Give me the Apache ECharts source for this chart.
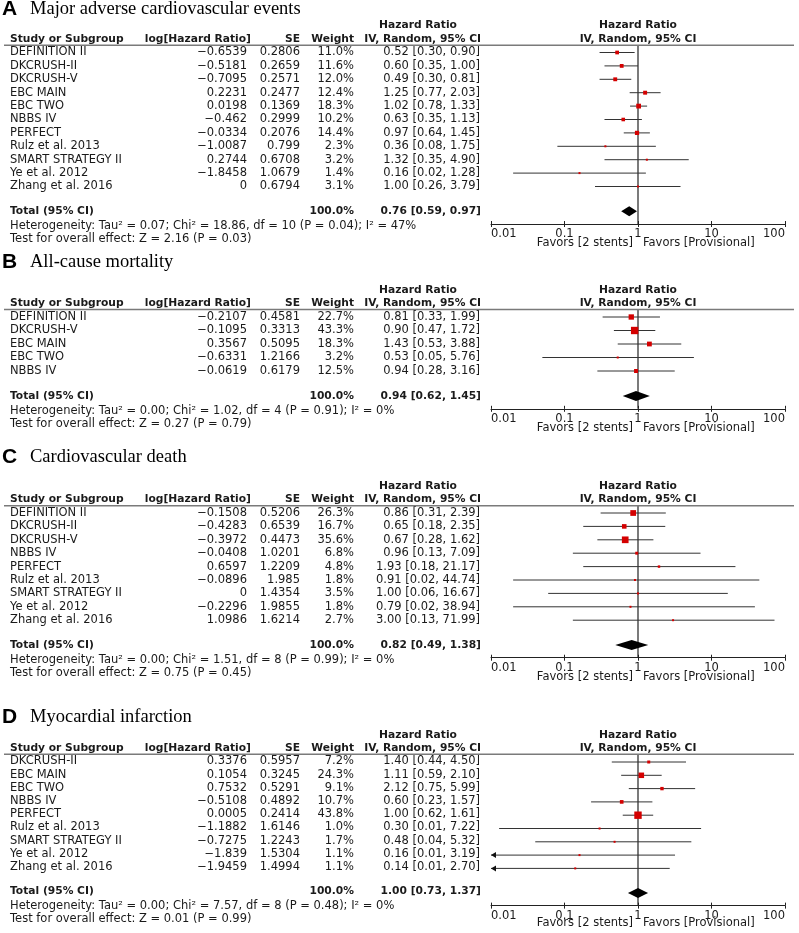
<!DOCTYPE html>
<html><head><meta charset="utf-8">
<script src="https://cdn.jsdelivr.net/npm/echarts@6/dist/echarts.min.js"></script>
<style>html,body{margin:0;padding:0;background:#fff}#c{width:799px;height:933px}</style>
</head><body><div id="c"></div>
<script>
// ---------- Panel A: Major adverse cardiovascular events ----------
const A_studies = ['DEFINITION II','DKCRUSH-II','DKCRUSH-V','EBC MAIN','EBC TWO','NBBS IV','PERFECT','Rulz et al. 2013','SMART STRATEGY II','Ye et al. 2012','Zhang et al. 2016'];
const A_logHR = [-0.6539,-0.5181,-0.7095,0.2231,0.0198,-0.462,-0.0334,-1.0087,0.2744,-1.8458,0];
const A_se = [0.2806,0.2659,0.2571,0.2477,0.1369,0.2999,0.2076,0.799,0.6708,1.0679,0.6794];
const A_weight = [11.0,11.6,12.0,12.4,18.3,10.2,14.4,2.3,3.2,1.4,3.1];
const A_hr = [0.52,0.60,0.49,1.25,1.02,0.63,0.97,0.36,1.32,0.16,1.00];
const A_lo = [0.30,0.35,0.30,0.77,0.78,0.35,0.64,0.08,0.35,0.02,0.26];
const A_hi = [0.90,1.00,0.81,2.03,1.33,1.13,1.45,1.75,4.90,1.28,3.79];
const A_total = [0.76,0.59,0.97];
const A_hetero = 'Heterogeneity: Tau² = 0.07; Chi² = 18.86, df = 10 (P = 0.04); I² = 47%';
const A_test = 'Test for overall effect: Z = 2.16 (P = 0.03)';

// ---------- Panel B: All-cause mortality ----------
const B_studies = ['DEFINITION II','DKCRUSH-V','EBC MAIN','EBC TWO','NBBS IV'];
const B_logHR = [-0.2107,-0.1095,0.3567,-0.6331,-0.0619];
const B_se = [0.4581,0.3313,0.5095,1.2166,0.6179];
const B_weight = [22.7,43.3,18.3,3.2,12.5];
const B_hr = [0.81,0.90,1.43,0.53,0.94];
const B_lo = [0.33,0.47,0.53,0.05,0.28];
const B_hi = [1.99,1.72,3.88,5.76,3.16];
const B_total = [0.94,0.62,1.45];
const B_hetero = 'Heterogeneity: Tau² = 0.00; Chi² = 1.02, df = 4 (P = 0.91); I² = 0%';
const B_test = 'Test for overall effect: Z = 0.27 (P = 0.79)';

// ---------- Panel C: Cardiovascular death ----------
const C_studies = ['DEFINITION II','DKCRUSH-II','DKCRUSH-V','NBBS IV','PERFECT','Rulz et al. 2013','SMART STRATEGY II','Ye et al. 2012','Zhang et al. 2016'];
const C_logHR = [-0.1508,-0.4283,-0.3972,-0.0408,0.6597,-0.0896,0,-0.2296,1.0986];
const C_se = [0.5206,0.6539,0.4473,1.0201,1.2209,1.985,1.4354,1.9855,1.6214];
const C_weight = [26.3,16.7,35.6,6.8,4.8,1.8,3.5,1.8,2.7];
const C_hr = [0.86,0.65,0.67,0.96,1.93,0.91,1.00,0.79,3.00];
const C_lo = [0.31,0.18,0.28,0.13,0.18,0.02,0.06,0.02,0.13];
const C_hi = [2.39,2.35,1.62,7.09,21.17,44.74,16.67,38.94,71.99];
const C_total = [0.82,0.49,1.38];
const C_hetero = 'Heterogeneity: Tau² = 0.00; Chi² = 1.51, df = 8 (P = 0.99); I² = 0%';
const C_test = 'Test for overall effect: Z = 0.75 (P = 0.45)';

// ---------- Panel D: Myocardial infarction ----------
const D_studies = ['DKCRUSH-II','EBC MAIN','EBC TWO','NBBS IV','PERFECT','Rulz et al. 2013','SMART STRATEGY II','Ye et al. 2012','Zhang et al. 2016'];
const D_logHR = [0.3376,0.1054,0.7532,-0.5108,0.0005,-1.1882,-0.7275,-1.839,-1.9459];
const D_se = [0.5957,0.3245,0.5291,0.4892,0.2414,1.6146,1.2243,1.5304,1.4994];
const D_weight = [7.2,24.3,9.1,10.7,43.8,1.0,1.7,1.1,1.1];
const D_hr = [1.40,1.11,2.12,0.60,1.00,0.30,0.48,0.16,0.14];
const D_lo = [0.44,0.59,0.75,0.23,0.62,0.0129,0.04,0.0079,0.0076];
const D_hi = [4.50,2.10,5.99,1.57,1.61,7.22,5.32,3.19,2.70];
const D_total = [1.00,0.73,1.37];
const D_hetero = 'Heterogeneity: Tau² = 0.00; Chi² = 7.57, df = 8 (P = 0.48); I² = 0%';
const D_test = 'Test for overall effect: Z = 0.01 (P = 0.99)';

const xTicks = [0.01, 0.1, 1, 10, 100];
const favorsLeft = 'Favors [2 stents]';
const favorsRight = 'Favors [Provisional]';

const panels = [
  {letter:'A', title:'Major adverse cardiovascular events', studies:A_studies, logHR:A_logHR, se:A_se, weight:A_weight, hr:A_hr, lo:A_lo, hi:A_hi, total:A_total, hetero:A_hetero, test:A_test, row0:52.5, step:13.4, titleY:9},
  {letter:'B', title:'All-cause mortality', studies:B_studies, logHR:B_logHR, se:B_se, weight:B_weight, hr:B_hr, lo:B_lo, hi:B_hi, total:B_total, hetero:B_hetero, test:B_test, row0:317, step:13.5, titleY:262},
  {letter:'C', title:'Cardiovascular death', studies:C_studies, logHR:C_logHR, se:C_se, weight:C_weight, hr:C_hr, lo:C_lo, hi:C_hi, total:C_total, hetero:C_hetero, test:C_test, row0:513, step:13.4, titleY:457},
  {letter:'D', title:'Myocardial infarction', studies:D_studies, logHR:D_logHR, se:D_se, weight:D_weight, hr:D_hr, lo:D_lo, hi:D_hi, total:D_total, hetero:D_hetero, test:D_test, row0:762, step:13.3, titleY:717}
];

const FF = '"DejaVu Sans", Verdana, sans-serif';
const fReg = '11.5px ' + FF;
const fBold = 'bold 10.7px ' + FF;
const fTitle = '18.5px "Liberation Serif", "Times New Roman", serif';
const fLetter = 'bold 21px "Liberation Sans", Arial, sans-serif';
const TXT = '#1a1a1a';
const fmtLog = v => String(v).replace('-', '\u2212');
const fmtCI = (h, l, u) => h.toFixed(2) + ' [' + l.toFixed(2) + ', ' + u.toFixed(2) + ']';

const grid = [], xAxis = [], yAxis = [], series = [];

function textSeries(xi, yi, items) {
  return {
    type:'custom', xAxisIndex:xi, yAxisIndex:yi, silent:true, animation:false, clip:false,
    data: items.map(it => [it.x, it.r]), encode:{x:0, y:1},
    renderItem: (params, api) => {
      const it = items[params.dataIndex];
      const pt = api.coord([api.value(0), api.value(1)]);
      return {type:'text', x: pt[0] + (it.dx || 0), y: pt[1] + (it.dy || 0),
        style:{text: it.t, textAlign: it.a || 'left', textVerticalAlign:'middle', font: it.f || fReg, fill: it.c || TXT}};
    }
  };
}

panels.forEach(p => {
  const n = p.studies.length;
  const lineRow = -0.55, totalRow = n - 1 + 1.85, hetRow = n - 1 + 2.95, testRow = n - 1 + 3.95, axisRow = n - 1 + 2.8;
  const tMin = Math.max(-6, -(p.row0 - 1) / p.step), tMax = n - 1 + 5;
  const titleRow = (p.titleY - p.row0) / p.step;

  // table grid (x in pixel-like units 0..799)
  const gT = grid.length;
  grid.push({left:0, right:0, top: p.row0 + tMin * p.step, height: (tMax - tMin) * p.step});
  const xT = xAxis.length;
  xAxis.push({gridIndex:gT, type:'value', min:0, max:799, show:false});
  const yT = yAxis.length;
  yAxis.push({gridIndex:gT, type:'value', min:tMin, max:tMax, inverse:true, show:false});

  // plot grid (log scale)
  const gP = grid.length;
  grid.push({left:491, right:14, top: p.row0 + lineRow * p.step, height: (axisRow - lineRow) * p.step});
  const xP = xAxis.length;
  xAxis.push({gridIndex:gP, type:'log', logBase:10, min:xTicks[0], max:xTicks[xTicks.length-1], position:'bottom',
    axisLine:{show:true, onZero:false, lineStyle:{color:'#222', width:1}},
    axisTick:{show:true, length:3, lineStyle:{color:'#222', width:1}},
    axisLabel:{show:true, margin:4, fontSize:11.5, fontFamily:FF, color:TXT, alignMinLabel:'left', alignMaxLabel:'right',
      formatter: v => String(+(+v).toPrecision(1))},
    splitLine:{show:false}});
  xAxis.push({gridIndex:gP, type:'log', logBase:10, min:xTicks[0], max:xTicks[xTicks.length-1], position:'bottom',
    axisLine:{show:false, onZero:false}, axisTick:{show:true, inside:true, length:3, lineStyle:{color:'#222', width:1}},
    axisLabel:{show:false}, splitLine:{show:false}});
  const yP = yAxis.length;
  yAxis.push({gridIndex:gP, type:'value', min:lineRow, max:axisRow, inverse:true, show:false});

  // text items
  const items = [];
  items.push({x:2, r:titleRow, t:p.letter, f:fLetter, c:'#000'});
  items.push({x:30, r:titleRow, t:p.title, f:fTitle, c:'#000'});
  items.push({x:418, r:-2, t:'Hazard Ratio', a:'center', f:fBold});
  items.push({x:638, r:-2, t:'Hazard Ratio', a:'center', f:fBold});
  items.push({x:10, r:-1, t:'Study or Subgroup', f:fBold});
  items.push({x:251, r:-1, t:'log[Hazard Ratio]', a:'right', f:fBold});
  items.push({x:300, r:-1, t:'SE', a:'right', f:fBold});
  items.push({x:354, r:-1, t:'Weight', a:'right', f:fBold});
  items.push({x:481, r:-1, t:'IV, Random, 95% CI', a:'right', f:fBold});
  items.push({x:638, r:-1, t:'IV, Random, 95% CI', a:'center', f:fBold});
  p.studies.forEach((s, i) => {
    items.push({x:10, r:i, t:s});
    items.push({x:247, r:i, t:fmtLog(p.logHR[i]), a:'right'});
    items.push({x:300, r:i, t:String(p.se[i]), a:'right'});
    items.push({x:354, r:i, t:p.weight[i].toFixed(1) + '%', a:'right'});
    items.push({x:480, r:i, t:fmtCI(p.hr[i], p.lo[i], p.hi[i]), a:'right'});
  });
  items.push({x:10, r:totalRow, t:'Total (95% CI)', f:fBold});
  items.push({x:354, r:totalRow, t:'100.0%', a:'right', f:fBold});
  items.push({x:481, r:totalRow, t:fmtCI(p.total[0], p.total[1], p.total[2]), a:'right', f:fBold});
  items.push({x:10, r:hetRow, t:p.hetero});
  items.push({x:10, r:testRow, t:p.test});
  items.push({x:633, r:axisRow, dy:19, t:favorsLeft, a:'right'});
  items.push({x:643, r:axisRow, dy:19, t:favorsRight, a:'left'});
  series.push(textSeries(xT, yT, items));

  // header rule
  series.push({type:'line', xAxisIndex:xT, yAxisIndex:yT, data:[[4, lineRow], [794, lineRow]], symbol:'none', silent:true, animation:false,
    lineStyle:{color:'#7a7a7a', width:1.5}});

  // line of no effect
  series.push({type:'line', xAxisIndex:xP, yAxisIndex:yP, data:[[1, lineRow], [1, axisRow]], symbol:'none', silent:true, animation:false,
    lineStyle:{color:'#222', width:1.2}, z:1});

  // study CIs + squares
  series.push({
    type:'custom', xAxisIndex:xP, yAxisIndex:yP, silent:true, animation:false, clip:false, z:3,
    data: p.studies.map((s, i) => [p.hr[i], i, p.lo[i], p.hi[i], p.weight[i]]),
    encode:{x:0, y:1},
    renderItem: (params, api) => {
      const hr = api.value(0), r = api.value(1), lo = api.value(2), hi = api.value(3), w = api.value(4);
      const y = api.coord([1, r])[1];
      const xmin = xTicks[0], xmax = xTicks[xTicks.length-1];
      const xl = api.coord([Math.max(lo, xmin), r])[0];
      const xh = api.coord([Math.min(hi, xmax), r])[0];
      const xc = api.coord([hr, r])[0];
      const s = Math.max(2, 1.12 * Math.sqrt(w));
      const ch = [
        {type:'line', shape:{x1:xl, y1:y, x2:xh, y2:y}, style:{stroke:'#333', lineWidth:1}},
        {type:'rect', shape:{x:xc - s/2, y:y - s/2, width:s, height:s}, style:{fill:'#d40000'}}
      ];
      if (lo < xmin) ch.push({type:'polygon', shape:{points:[[xl, y], [xl + 5, y - 3], [xl + 5, y + 3]]}, style:{fill:'#111'}});
      if (hi > xmax) ch.push({type:'polygon', shape:{points:[[xh, y], [xh - 5, y - 3], [xh - 5, y + 3]]}, style:{fill:'#111'}});
      return {type:'group', children:ch};
    }
  });

  // pooled diamond
  series.push({
    type:'custom', xAxisIndex:xP, yAxisIndex:yP, silent:true, animation:false, clip:false, z:3,
    data: [[p.total[0], totalRow, p.total[1], p.total[2]]], encode:{x:0, y:1},
    renderItem: (params, api) => {
      const r = api.value(1);
      const c = api.coord([api.value(0), r]);
      const l = api.coord([api.value(2), r])[0], u = api.coord([api.value(3), r])[0];
      const h = 5;
      return {type:'polygon', shape:{points:[[l, c[1]], [c[0], c[1] - h], [u, c[1]], [c[0], c[1] + h]]}, style:{fill:'#000'}};
    }
  });
});

const chart = echarts.init(document.getElementById('c'), null, {renderer:'canvas'});
chart.setOption({animation:false, backgroundColor:'#fff', grid, xAxis, yAxis, series});
</script>
</body></html>
